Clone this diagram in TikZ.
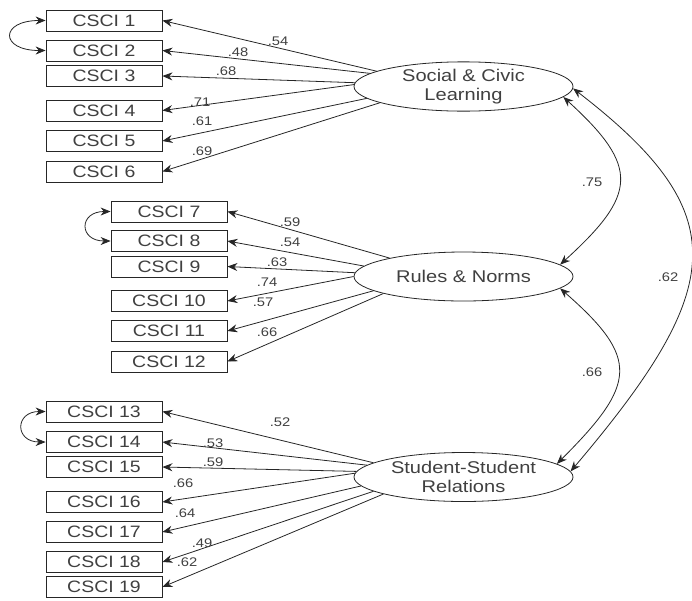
\documentclass[tikz,border=0pt]{standalone}
\usepackage{fontspec}
\setmainfont{Liberation Sans}[FakeStretch=1.18]
\usetikzlibrary{arrows.meta,shapes.geometric}
\tikzset{
  item/.style={draw=black!85, line width=0.8pt, minimum width=116pt, minimum height=21pt,
    inner sep=0pt, font=\fontsize{16.5}{19}\selectfont, text=black!75},
  factor/.style={draw=black!85, line width=0.8pt, ellipse, minimum width=219pt, minimum height=49pt,
    inner sep=0pt, align=center, font=\fontsize{17}{19}\selectfont, text=black!75},
  load/.style={-{Stealth[length=10pt,width=8pt]}, black!85, line width=0.8pt},
  cov/.style={{Stealth[length=10pt,width=8pt]}-{Stealth[length=10pt,width=8pt]}, black!85, line width=0.8pt},
  lab/.style={font=\fontsize{12.5}{14}\selectfont, text=black!75, inner sep=0pt}
}
\begin{document}
\begin{tikzpicture}[x=1pt,y=-1pt]
    \useasboundingbox (0,0) rectangle (692,600);

    % factors
    \node[factor] (soc) at (463.5,86.5) {Social \& Civic\\Learning};
    \node[factor] (rul) at (463.5,276.5) {Rules \& Norms};
    \node[factor] (stu) at (463.5,477) {Student-Student\\Relations};

    % Social & Civic Learning
    \foreach \i/\y/\a/\v/\lx/\ly in {
        1/20.5/170.4/.54/278/41,
        2/50.5/172/.48/238/52,
        3/76/178/.68/226/71,
        4/110.5/179.5/.71/200/102,
        5/141/187.6/.61/202/121,
        6/171.5/191.9/.69/202/151}{
      \node[item] (c\i) at (104,\y) {CSCI \i};
      \draw[load] (soc.\a) -- (c\i.east);
      \node[lab] (l\i) at (\lx,\ly) {\v};
    }
    \draw[cov] (c1.west) to[out=180,in=180,distance=46pt] (c2.west);

    % Rules & Norms
    \foreach \i/\y/\a/\v/\lx/\ly in {
        7/211.5/166.7/.59/290/222,
        8/241/174.1/.54/290/242,
        9/266.5/178.2/.63/277/262,
        10/301/180.5/.74/267/282,
        11/331/189.6/.57/263/302,
        12/361.5/192.6/.66/267/332}{
      \node[item] (c\i) at (169,\y) {CSCI \i};
      \draw[load] (rul.\a) -- (c\i.east);
      \node[lab] (l\i) at (\lx,\ly) {\v};
    }
    \draw[cov] (c7.west) to[out=180,in=180,distance=32pt] (c8.west);

    % Student-Student Relations
    \foreach \i/\y/\a/\v/\lx/\ly in {
        13/411.5/171.1/.52/280/422,
        14/442/173.2/.53/213/443,
        15/467/177.4/.59/213/462,
        16/502/178.4/.66/183/483,
        17/532/185.7/.64/185/513,
        18/562/189.3/.49/202/543,
        19/587/192.5/.62/187/562}{
      \node[item] (c\i) at (104,\y) {CSCI \i};
      \draw[load] (stu.\a) -- (c\i.east);
      \node[lab] (l\i) at (\lx,\ly) {\v};
    }
    \draw[cov] (c13.west) to[out=180,in=180,distance=31pt] (c14.west);

    % correlations
    \draw[cov] (soc.-6) .. controls +(77,70) and +(77,-70) .. (rul.7);
    \node[lab] (r1) at (592,182) {.75};
    \draw[cov] (rul.-7) .. controls +(80,70) and +(80,-80) .. (stu.8);
    \node[lab] (r2) at (592,372) {.66};
    \draw[cov] (soc.-1) .. controls +(162,125) and +(157,-185) .. (stu.3);
    \node[lab] (r3) at (668,277) {.62};
  \end{tikzpicture}
\end{document}
